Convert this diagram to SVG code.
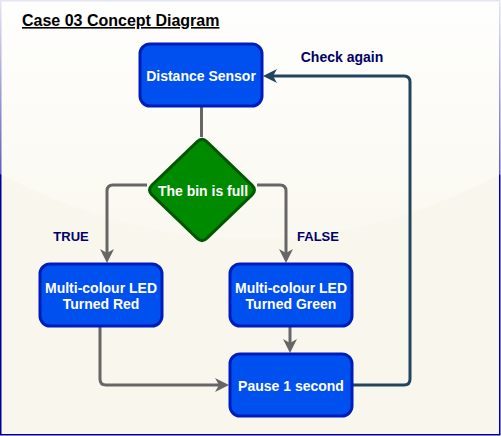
<svg xmlns="http://www.w3.org/2000/svg" width="501" height="436" viewBox="0 0 501 436">
<style>
.node{fill:#0050ef;stroke:#001dbc;stroke-width:3}
.t{font-family:"Liberation Sans",Arial,sans-serif;font-weight:bold;font-size:14px;fill:#ffffff;text-anchor:middle}
.lbl{font-family:"Liberation Sans",Arial,sans-serif;font-weight:bold;fill:#000066;text-anchor:middle}
.c{fill:none;stroke:#666666;stroke-width:3}
</style>
<defs>
<linearGradient id="glass" gradientUnits="userSpaceOnUse" x1="0" y1="0" x2="0" y2="261">
<stop offset="0" stop-color="#ffffff" stop-opacity="0.9"/>
<stop offset="1" stop-color="#ffffff" stop-opacity="0.1"/>
</linearGradient>
<marker id="ag" markerUnits="userSpaceOnUse" markerWidth="14" markerHeight="14" refX="4" refY="7" orient="auto" overflow="visible">
<path d="M0,0 L14,7 L0,14 L4,7 Z" fill="#666666"/>
</marker>
<marker id="ab" markerUnits="userSpaceOnUse" markerWidth="14" markerHeight="14" refX="4" refY="7" orient="auto" overflow="visible">
<path d="M0,0 L14,7 L0,14 L4,7 Z" fill="#23445d"/>
</marker>
</defs>
<g id="frame">
<rect x="0.75" y="0.75" width="499" height="434" fill="#f9f7ed" stroke="#000099" stroke-width="1.5"/>
<path d="M0,0 L0,174 Q250.5,304 501,174 L501,0 Z" fill="url(#glass)"/>
<text x="22" y="26" font-family="'Liberation Sans',Arial,sans-serif" font-weight="bold" font-size="16" fill="#000000" text-decoration="underline">Case 03 Concept Diagram</text>
</g>
<g id="connectors">
<path class="c" d="M201.5,106 L201.5,137"/>
<path class="c" d="M147,185 L113,185 Q107,185 107,191 L107,253" marker-end="url(#ag)"/>
<path class="c" d="M257,185 L280,185 Q286,185 286,191 L286,253" marker-end="url(#ag)"/>
<path class="c" d="M100,326 L100,379 Q100,385 106,385 L219,385" marker-end="url(#ag)"/>
<path class="c" d="M290,326 L290,343" marker-end="url(#ag)"/>
<path d="M352,385 L404,385 Q410,385 410,379 L410,82 Q410,76 404,76 L273,76" fill="none" stroke="#23445d" stroke-width="3" marker-end="url(#ab)"/>
<text class="lbl" x="71" y="241" font-size="13">TRUE</text>
<text class="lbl" x="318" y="241" font-size="13">FALSE</text>
<text class="lbl" x="342" y="62" font-size="14">Check again</text>
</g>
<g id="distance-sensor">
<rect class="node" x="140" y="44" width="122" height="62" rx="10"/>
<text class="t" x="201" y="81">Distance Sensor</text>
</g>
<g id="bin-full">
<path d="M197,141.9 Q202,137 207,141.9 L252,185.1 Q257,190 252,194.9 L207,238.1 Q202,243 197,238.1 L152,194.9 Q147,190 152,185.1 Z" fill="#008a00" stroke="#005700" stroke-width="3"/>
<text class="t" x="203" y="196">The bin is full</text>
</g>
<g id="led-red">
<rect class="node" x="40" y="264" width="122" height="62" rx="10"/>
<text class="t" x="101" y="293">Multi-colour LED</text>
<text class="t" x="101" y="309">Turned Red</text>
</g>
<g id="led-green">
<rect class="node" x="230" y="264" width="122" height="62" rx="10"/>
<text class="t" x="291" y="293">Multi-colour LED</text>
<text class="t" x="291" y="309">Turned Green</text>
</g>
<g id="pause">
<rect class="node" x="230" y="354" width="122" height="62" rx="10"/>
<text class="t" x="291" y="391">Pause 1 second</text>
</g>
</svg>
